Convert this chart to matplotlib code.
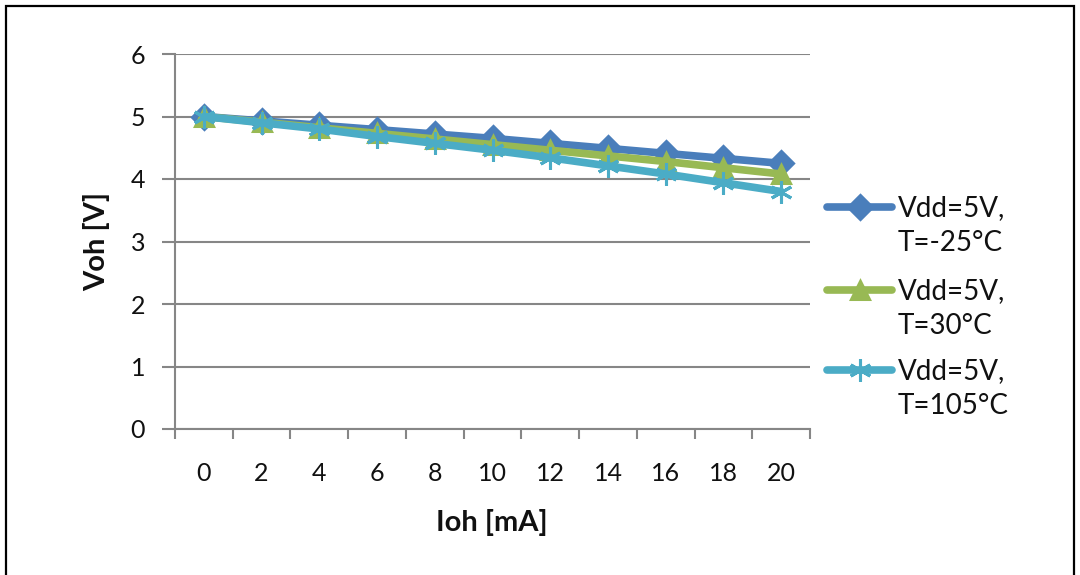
import matplotlib
matplotlib.use("Agg")
import matplotlib.pyplot as plt
from matplotlib.lines import Line2D
from matplotlib.patches import Rectangle

plt.rcParams['font.family'] = ['Lato', 'DejaVu Sans']

# ---- data ----
ioh_labels = ["0", "2", "4", "6", "8", "10", "12", "14", "16", "18", "20"]
voh_m25 = [5.00, 4.93, 4.86, 4.79, 4.72, 4.65, 4.57, 4.49, 4.41, 4.33, 4.25]
voh_30 = [5.00, 4.91, 4.82, 4.73, 4.64, 4.55, 4.46, 4.37, 4.28, 4.18, 4.08]
voh_105 = [5.00, 4.90, 4.80, 4.68, 4.57, 4.46, 4.34, 4.21, 4.08, 3.94, 3.80]
series_labels = ["Vdd=5V,\nT=-25°C", "Vdd=5V,\nT=30°C", "Vdd=5V,\nT=105°C"]
y_ticks = [0, 1, 2, 3, 4, 5, 6]

colors = ["#4A7EBB", "#98B954", "#4BACC6"]
markers = ["D", "^", (6, 2, 0)]
msizes = [12, 13, 16]

TXT = '#111111'
W, H = 1080, 575
fig = plt.figure(figsize=(W / 100, H / 100), dpi=100)
ax = fig.add_axes([175 / W, 1 - 429 / H, (810 - 175) / W, (429 - 54) / H])

x = list(range(len(ioh_labels)))
for vals, c, m, ms in zip([voh_m25, voh_30, voh_105], colors, markers, msizes):
    ax.plot(x, vals, color=c, lw=5.5, marker=m, ms=ms, mfc=c, mec=c, mew=2.2,
            solid_joinstyle='round', solid_capstyle='round', zorder=3)

ax.set_xlim(-0.5, len(x) - 0.5)
ax.set_ylim(0, 6)
ax.set_yticks(y_ticks)
ax.set_yticklabels([str(v) for v in y_ticks])
ax.set_xticks([i - 0.5 for i in range(len(x) + 1)])
ax.set_xticklabels([])
ax.set_xticks(x, minor=True)
ax.set_xticklabels(ioh_labels, minor=True)
ax.tick_params(axis='x', which='major', length=7.5, width=1.5, color='#868686', direction='out')
ax.tick_params(axis='x', which='minor', length=0, labelsize=18, pad=24, labelcolor=TXT)
ax.tick_params(axis='y', which='major', length=9.5, width=1.5, color='#868686', direction='out',
               labelsize=18, pad=12, labelcolor=TXT)
ax.grid(axis='y', color='#868686', lw=1.5)
ax.set_axisbelow(True)
for s in ['top', 'right']:
    ax.spines[s].set_visible(False)
for s in ['left', 'bottom']:
    ax.spines[s].set_color('#868686')
    ax.spines[s].set_linewidth(1.5)

ax.set_ylabel("Voh [V]", fontsize=21, fontweight='bold', color=TXT)
ax.set_xlabel("Ioh [mA]", fontsize=21, fontweight='bold', color=TXT)
ax.xaxis.set_label_coords((492 - 175) / 635, (429 - 523) / 375)
ax.xaxis.label.set_va('center')
ax.yaxis.set_label_coords((97 - 175) / 635, 0.5)
ax.yaxis.label.set_va('center')

# legend (manual, handles aligned to first text line)
leg_y = [207, 290, 370]
for yy, c, m, ms, lab in zip(leg_y, colors, markers, msizes, series_labels):
    yf = 1 - yy / H
    fig.add_artist(Line2D([827 / W, 892 / W], [yf, yf], color=c, lw=5.5,
                          solid_capstyle='round'))
    fig.add_artist(Line2D([859.5 / W], [yf], color=c, marker=m, ms=ms, mfc=c, mec=c, mew=2.2))
    l1, l2 = lab.split("\n")
    fig.text(898 / W, 1 - (yy + 1) / H, l1, fontsize=20, va='center', ha='left', color=TXT)
    fig.text(898 / W, 1 - (yy + 36) / H, l2, fontsize=20, va='center', ha='left', color=TXT)

# outer frame
fig.add_artist(Rectangle((6 / W, -0.05), (1074 - 6) / W, 1.05 - 6 / H, transform=fig.transFigure,
                         fill=False, ec='black', lw=1.6))

fig.savefig("out.png", dpi=100)
